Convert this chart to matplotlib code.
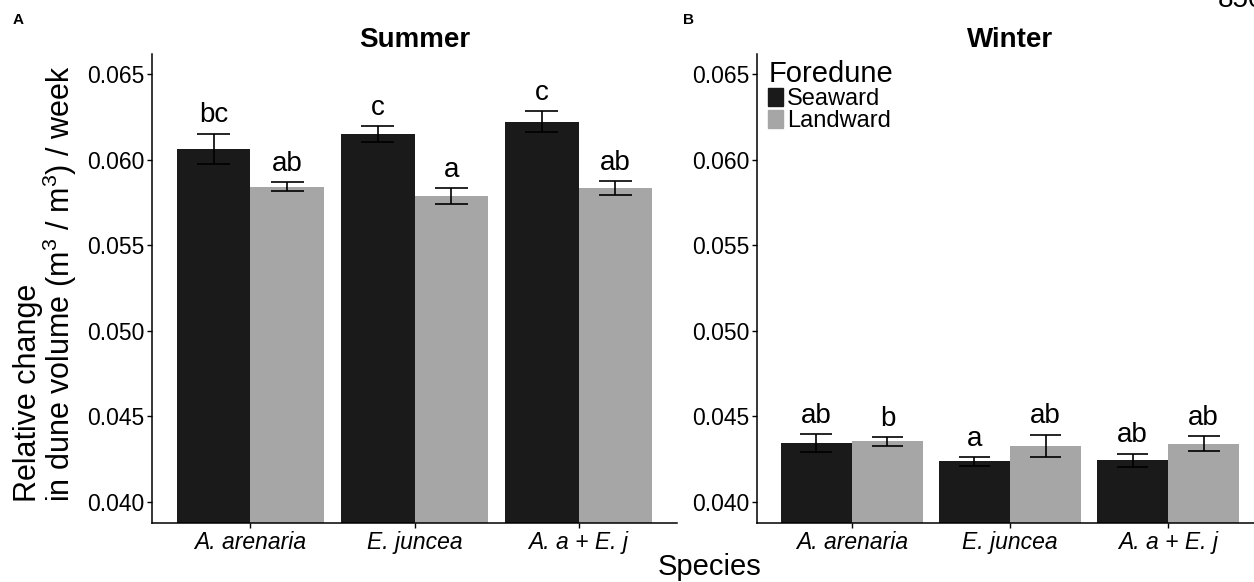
import matplotlib
matplotlib.use('Agg')
import matplotlib.pyplot as plt
import matplotlib.patches as mpatches
import numpy as np

plt.rcParams['font.family'] = ['Liberation Sans', 'DejaVu Sans']
plt.rcParams['mathtext.fontset'] = 'custom'
plt.rcParams['mathtext.rm'] = 'Liberation Sans'
plt.rcParams['mathtext.it'] = 'Liberation Sans:italic'

# data
species = ['A. arenaria', 'E. juncea', 'A. a + E. j']
groups = ['Seaward', 'Landward']

summer_sea = [0.06064, 0.06148, 0.06222]
summer_sea_se = [0.00088, 0.00047, 0.00063]
summer_land = [0.05842, 0.05786, 0.05834]
summer_land_se = [0.00026, 0.00048, 0.00039]
summer_sea_let = ['bc', 'c', 'c']
summer_land_let = ['ab', 'a', 'ab']

winter_sea = [0.04344, 0.04237, 0.04243]
winter_sea_se = [0.00053, 0.00027, 0.00040]
winter_land = [0.04354, 0.04328, 0.04341]
winter_land_se = [0.00026, 0.00066, 0.00042]
winter_sea_let = ['ab', 'a', 'ab']
winter_land_let = ['b', 'ab', 'ab']

yticks = [0.040, 0.045, 0.050, 0.055, 0.060, 0.065]

dark = '#1a1a1a'
light = '#a6a6a6'

fig = plt.figure(figsize=(12.54, 5.82), dpi=100)
ax1 = fig.add_axes([152 / 1254, 59 / 582, 525 / 1254, 469 / 582])
ax2 = fig.add_axes([757 / 1254, 59 / 582, 506 / 1254, 469 / 582])

bw = 0.45
ew = 0.2


def panel(ax, sea, sea_se, land, land_se, sea_let, land_let, title):
    x = np.arange(1, len(species) + 1)
    for xs, vals, ses, lets, col in [(x - bw / 2, sea, sea_se, sea_let, dark),
                                     (x + bw / 2, land, land_se, land_let, light)]:
        vals = np.array(vals)
        ses = np.array(ses)
        ax.bar(xs, vals, width=bw, color=col)
        ax.vlines(xs, vals - ses, vals + ses, color='black', lw=1.2)
        ax.hlines(vals - ses, xs - ew / 2, xs + ew / 2, color='black', lw=1.2)
        ax.hlines(vals + ses, xs - ew / 2, xs + ew / 2, color='black', lw=1.2)
        for xi, top, lab in zip(xs, vals + ses, lets):
            ax.annotate(lab, (xi, top), xytext=(0, 8), textcoords='offset points',
                        ha='center', va='baseline', fontsize=20)
    ax.set_xlim(0.4, 3.6)
    ax.set_ylim(0.03877, 0.06617)
    ax.set_xticks(x)
    ax.set_xticklabels(species, fontstyle='italic', fontsize=16.5)
    ax.set_yticks(yticks)
    ax.set_yticklabels(['%.3f' % t for t in yticks], fontsize=16.5)
    ax.tick_params(axis='both', length=3.5, width=1, pad=2, color='black')
    for s in ['top', 'right']:
        ax.spines[s].set_visible(False)
    for s in ['left', 'bottom']:
        ax.spines[s].set_linewidth(1.1)
    ax.set_title(title, fontsize=20, fontweight='bold', pad=5)


panel(ax1, summer_sea, summer_sea_se, summer_land, summer_land_se,
      summer_sea_let, summer_land_let, 'Summer')
panel(ax2, winter_sea, winter_sea_se, winter_land, winter_land_se,
      winter_sea_let, winter_land_let, 'Winter')

handles = [mpatches.Patch(color=dark), mpatches.Patch(color=light)]
leg = ax2.legend(handles, groups, title='Foredune', loc='upper left',
                 bbox_to_anchor=(0.022, 0.987), frameon=False, fontsize=17,
                 title_fontsize=21, borderpad=0, borderaxespad=0,
                 labelspacing=0.0, handlelength=0.64, handleheight=0.76,
                 handletextpad=0.17, alignment='left')

fig.text(46 / 1254, 0.513,
         'Relative change\nin dune volume (m$^3$ / m$^3$) / week',
         rotation=90, ha='center', va='center', multialignment='left',
         fontsize=22, linespacing=0.95)
fig.text(710 / 1254, 7 / 582, 'Species', ha='center', va='baseline', fontsize=21)
fig.text(18 / 1254, 1 - 20 / 582, 'A', ha='center', va='center', fontsize=11, fontweight='bold')
fig.text(688 / 1254, 1 - 20 / 582, 'B', ha='center', va='center', fontsize=11, fontweight='bold')
fig.text(1218 / 1254, 1 - 7 / 582, '850', ha='left', va='baseline', fontsize=20)

fig.savefig('out.png', dpi=100)
